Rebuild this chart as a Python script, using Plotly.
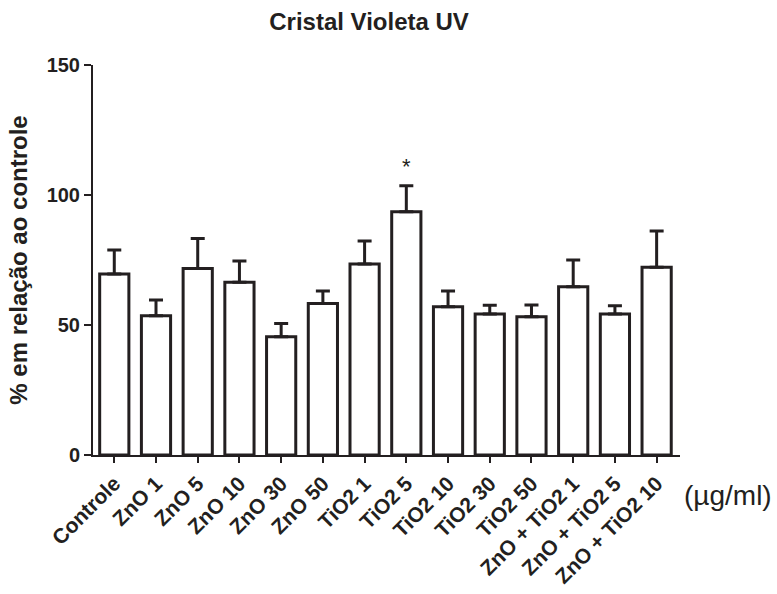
import plotly.graph_objects as go

categories = ["Controle", "ZnO 1", "ZnO 5", "ZnO 10", "ZnO 30", "ZnO 50",
              "TiO2 1", "TiO2 5", "TiO2 10", "TiO2 30", "TiO2 50",
              "ZnO + TiO2 1", "ZnO + TiO2 5", "ZnO + TiO2 10"]
means = [69.6, 53.6, 71.7, 66.4, 45.5, 58.3, 73.5, 93.6, 57.0, 54.2, 53.2, 64.7, 54.2, 72.2]
upper = [78.8, 59.6, 83.3, 74.6, 50.6, 63.1, 82.3, 103.6, 63.1, 57.6, 57.7, 75.0, 57.4, 86.2]
errors = [u - m for u, m in zip(upper, means)]
star_category = "TiO2 5"
star_y = 111

FONT = "Liberation Sans, Arial, sans-serif"
INK = "#231f20"

fig = go.Figure()
fig.add_trace(go.Bar(
    x=list(range(len(categories))), y=means, width=0.7,
    marker=dict(color="white", line=dict(color=INK, width=3)),
    error_y=dict(type="data", symmetric=False, array=errors,
                 arrayminus=[0]*len(errors), color=INK,
                 thickness=3, width=7),
    showlegend=False,
))

fig.add_annotation(x=categories.index(star_category), y=star_y, text="*",
                   showarrow=False, font=dict(family=FONT, size=22, color=INK),
                   xref="x", yref="y")
fig.add_annotation(x=1.004, y=-0.105, xref="paper", yref="paper", text="(µg/ml)",
                   showarrow=False, xanchor="left", yanchor="middle",
                   font=dict(family=FONT, size=28, color=INK))

fig.update_layout(
    width=777, height=594,
    margin=dict(l=93, r=97, t=65, b=139),
    plot_bgcolor="white", paper_bgcolor="white",
    title=dict(text="<b>Cristal Violeta UV</b>", x=0.475, xanchor="center",
               y=0.963, yanchor="middle",
               font=dict(family=FONT, size=24, color=INK)),
    bargap=0.3,
)
fig.update_xaxes(
    range=[-0.51, 13.56], automargin=False,
    tickmode="array", tickvals=list(range(len(categories))),
    ticktext=["<b>%s</b>" % c for c in categories],
    tickangle=-45, ticks="outside", ticklen=6, tickwidth=2, tickcolor=INK,
    showline=True, linewidth=2, linecolor=INK,
    showgrid=False, zeroline=False,
    tickfont=dict(family=FONT, size=21, color=INK),
)
fig.update_yaxes(
    range=[0, 150], tickvals=[0, 50, 100, 150], automargin=False,
    ticktext=["<b>0</b>", "<b>50</b>", "<b>100</b>", "<b>150</b>"],
    ticks="outside", ticklen=7, tickwidth=2, tickcolor=INK,
    showline=True, linewidth=2, linecolor=INK,
    showgrid=False, zeroline=False,
    tickfont=dict(family=FONT, size=20, color=INK),
    title=dict(text="<b>% em relação ao controle</b>", standoff=12,
               font=dict(family=FONT, size=24, color=INK)),
)

fig.write_html("out.html")
